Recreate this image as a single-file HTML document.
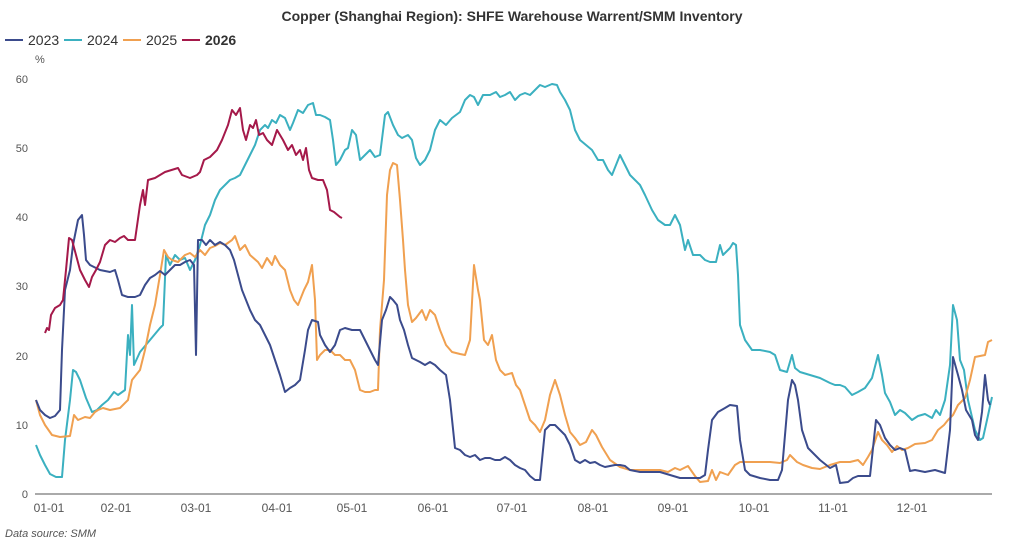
<!DOCTYPE html>
<html><head><meta charset="utf-8"><style>
body{margin:0;background:#fff;width:1024px;height:544px;overflow:hidden;font-family:"Liberation Sans",sans-serif}
</style></head><body>
<svg width="1024" height="544" xmlns="http://www.w3.org/2000/svg" font-family="Liberation Sans, sans-serif">
<text x="512" y="21" text-anchor="middle" font-size="14" font-weight="bold" fill="#333">Copper (Shanghai Region): SHFE Warehouse Warrent/SMM Inventory</text>
<g font-size="14" fill="#333">
<line x1="5" y1="40" x2="23" y2="40" stroke="#3b4b8c" stroke-width="2"/><text x="28" y="45">2023</text>
<line x1="64" y1="40" x2="82" y2="40" stroke="#3bb0c0" stroke-width="2"/><text x="87" y="45">2024</text>
<line x1="123" y1="40" x2="141" y2="40" stroke="#f0a050" stroke-width="2"/><text x="146" y="45">2025</text>
<line x1="182" y1="40" x2="200" y2="40" stroke="#a5194a" stroke-width="2"/><text x="205" y="45" font-weight="bold">2026</text>
</g>
<g font-size="11" fill="#555">
<text x="35" y="63">%</text>
<text x="28" y="83" text-anchor="end">60</text>
<text x="28" y="152" text-anchor="end">50</text>
<text x="28" y="221" text-anchor="end">40</text>
<text x="28" y="290" text-anchor="end">30</text>
<text x="28" y="360" text-anchor="end">20</text>
<text x="28" y="429" text-anchor="end">10</text>
<text x="28" y="498" text-anchor="end">0</text>
</g>
<line x1="35" y1="494" x2="992" y2="494" stroke="#555" stroke-width="1"/>
<g font-size="12" fill="#555" text-anchor="middle">
<text x="49" y="512">01-01</text><text x="116" y="512">02-01</text><text x="196" y="512">03-01</text><text x="277" y="512">04-01</text><text x="352" y="512">05-01</text><text x="433" y="512">06-01</text><text x="512" y="512">07-01</text><text x="593" y="512">08-01</text><text x="673" y="512">09-01</text><text x="754" y="512">10-01</text><text x="833" y="512">11-01</text><text x="912" y="512">12-01</text>
</g>
<text x="5" y="537" font-size="11" font-style="italic" fill="#555">Data source:  SMM</text>
<g fill="none" stroke-width="2" stroke-linejoin="round">
<polyline stroke="#3bb0c0" points="36,445 40,455 45,465 50,474 56,477 62,477 65,440 70,400 73,370 76,372 80,380 86,398 92,412 97,410 102,405 108,400 114,392 118,395 125,390 128,335 130,355 132,305 134,365 140,352 150,340 160,328 163,325 166,255 170,265 175,255 180,260 185,258 190,270 195,260 200,245 205,225 210,215 215,200 220,190 225,185 230,180 235,178 240,175 245,165 250,155 255,145 260,130 265,125 268,128 272,120 276,123 280,115 285,118 290,130 293,123 298,110 303,113 308,105 313,103 316,115 320,115 325,117 330,120 333,140 336,165 340,160 345,150 348,148 352,130 356,135 360,160 365,155 370,150 375,157 380,155 385,115 388,112 393,125 398,135 402,138 408,135 412,140 416,158 420,165 425,160 430,150 435,130 440,120 446,125 452,118 460,112 465,100 470,95 474,97 478,105 483,95 490,95 496,92 500,97 505,95 510,92 515,100 520,95 525,93 530,95 535,90 540,85 545,87 552,84 557,85 560,92 565,100 570,110 575,130 580,140 586,145 592,150 598,160 603,160 608,170 612,175 616,165 620,155 625,165 630,175 635,180 640,185 645,195 652,210 658,220 665,225 670,225 675,215 680,225 685,250 688,240 693,255 700,255 705,260 710,262 716,262 720,245 723,255 726,252 730,248 733,243 736,245 738,275 740,325 745,340 752,350 760,350 770,352 775,355 780,370 787,372 792,355 795,368 800,372 810,375 820,378 830,383 835,385 840,385 845,387 852,395 858,392 865,388 872,378 878,355 882,375 885,393 890,402 895,415 900,410 905,413 912,420 918,416 925,414 932,418 936,410 940,415 945,400 950,365 953,305 957,320 960,360 964,370 968,400 975,430 980,440 983,438 987,420 992,397"/>
<polyline stroke="#f0a050" points="36,400 40,415 45,425 52,435 60,437 70,436 74,415 78,420 85,417 90,418 95,412 98,410 103,408 110,410 120,408 128,400 132,380 140,370 145,350 150,325 155,305 160,275 164,250 168,257 172,260 178,262 185,255 190,253 195,257 200,250 205,255 210,248 215,246 220,243 225,245 232,240 235,236 240,250 245,245 250,255 258,262 262,268 267,258 272,265 275,256 280,265 285,270 290,290 294,300 298,305 304,290 308,282 312,265 315,300 317,360 320,355 325,350 330,350 335,355 340,355 345,360 350,360 355,370 360,390 365,392 370,392 375,390 378,390 380,330 384,280 387,195 390,170 393,163 397,165 400,200 403,240 405,270 408,305 412,322 416,318 422,310 426,320 430,310 435,315 440,330 446,345 452,352 460,354 465,355 470,340 474,265 478,290 480,300 484,340 488,345 492,335 496,360 500,370 505,375 512,373 516,385 520,390 525,405 530,420 535,425 540,432 545,420 550,395 555,380 560,395 565,415 570,432 575,438 580,445 586,442 592,430 596,435 602,447 610,460 620,467 630,470 640,470 650,470 660,470 668,472 675,468 680,470 688,466 695,476 700,482 708,481 712,470 716,480 720,472 728,475 735,465 740,462 750,462 760,462 770,462 780,463 787,460 790,455 797,462 803,465 812,468 820,469 830,465 840,462 850,462 858,460 863,465 868,457 872,450 878,432 882,440 887,445 892,452 897,446 902,450 908,448 915,444 925,443 932,440 938,430 944,425 948,420 953,415 958,405 965,398 970,380 975,357 980,356 985,355 988,342 992,340"/>
<polyline stroke="#3b4b8c" points="36,400 40,410 45,415 50,418 55,416 60,410 62,350 65,290 70,270 73,245 78,220 82,215 84,235 86,260 90,265 100,270 110,272 115,270 118,280 122,295 128,297 135,297 140,295 145,285 150,278 155,275 160,271 165,275 170,270 175,265 180,265 185,262 190,260 194,265 196,355 198,240 202,240 206,245 210,240 215,245 220,242 225,245 230,250 234,260 238,275 242,290 246,300 250,310 255,320 260,325 265,335 270,345 275,360 280,375 285,392 290,388 295,385 300,380 305,350 308,330 312,320 318,322 320,335 325,345 330,352 335,345 340,330 345,328 352,330 360,330 365,340 370,350 375,360 378,365 382,320 386,310 390,297 393,300 397,305 400,320 404,330 408,345 412,358 416,360 420,362 425,365 430,362 435,365 440,370 446,375 450,400 455,448 460,450 465,455 470,457 475,455 480,460 485,458 490,458 495,460 500,460 505,457 510,460 515,465 520,468 525,470 530,476 535,480 540,480 542,460 545,430 550,425 555,425 560,430 565,435 570,445 575,460 580,463 585,460 590,463 595,462 600,465 605,467 610,466 615,465 620,465 625,466 630,470 640,472 650,472 660,472 670,475 680,478 690,478 700,478 705,475 708,450 712,420 718,412 725,408 730,405 737,406 740,440 745,470 750,475 760,478 770,480 778,480 782,470 785,435 788,400 792,380 795,385 798,400 802,430 808,448 815,455 820,460 830,468 836,465 840,483 848,482 853,478 858,476 866,476 870,476 873,448 876,420 880,425 885,438 890,445 895,450 900,448 905,450 910,471 915,470 925,472 935,470 945,473 950,430 953,357 958,375 962,390 966,410 972,420 975,435 978,440 982,412 985,375 988,400 990,405"/>
<polyline stroke="#a5194a" points="45,333 47,328 49,330 51,315 55,308 60,305 63,300 66,270 69,238 72,240 76,255 80,270 85,280 89,287 92,277 96,270 100,262 105,245 110,240 115,242 120,238 124,236 128,240 135,240 140,205 143,190 145,205 148,180 155,178 165,172 178,168 182,175 190,178 197,175 200,172 204,160 210,157 217,150 222,140 228,125 232,110 236,115 240,108 243,130 246,140 250,125 253,128 256,120 259,135 263,133 267,140 272,145 277,130 283,140 288,150 292,145 296,155 300,150 303,160 306,148 309,170 312,178 318,180 323,180 327,190 330,210 334,212 340,217 342,218"/>
</g>
</svg>
</body></html>
